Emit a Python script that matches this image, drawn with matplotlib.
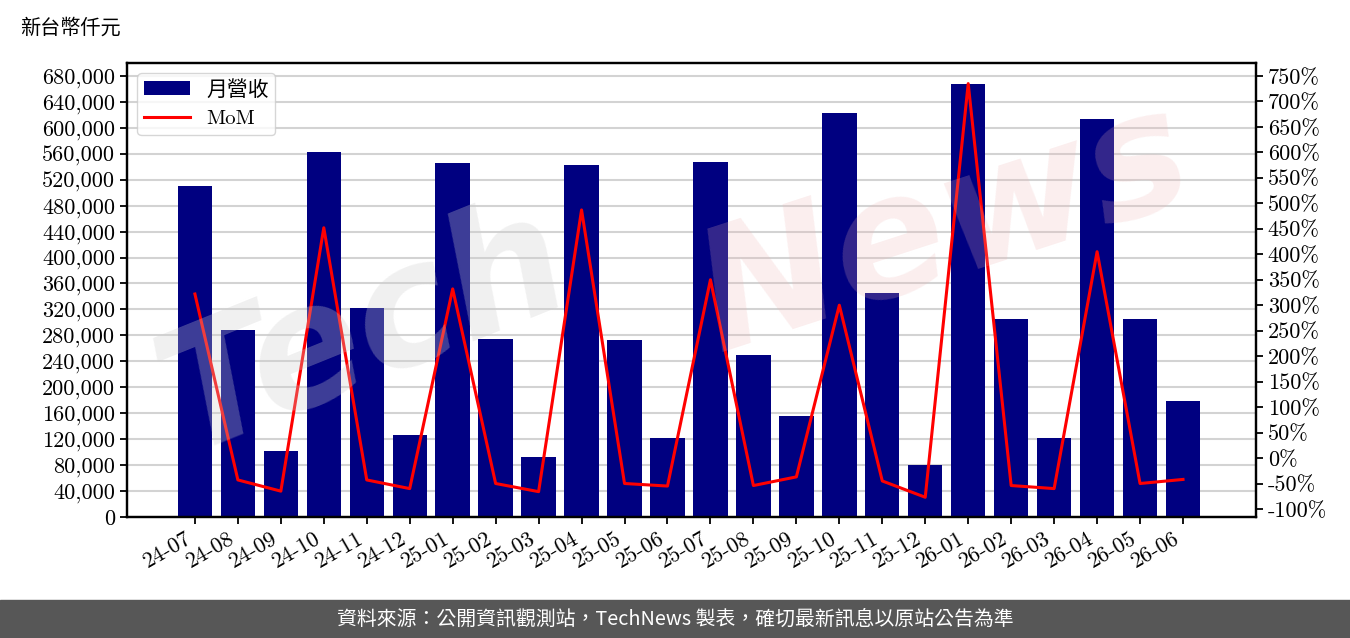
import numpy as np
import matplotlib
matplotlib.use('Agg')
import matplotlib.pyplot as plt
from matplotlib.ticker import FuncFormatter, MultipleLocator

months = ['24-07', '24-08', '24-09', '24-10', '24-11', '24-12',
          '25-01', '25-02', '25-03', '25-04', '25-05', '25-06',
          '25-07', '25-08', '25-09', '25-10', '25-11', '25-12',
          '26-01', '26-02', '26-03', '26-04', '26-05', '26-06']
revenue = [510000, 288000, 102000, 563000, 322000, 126000,
           546000, 274000, 92000, 543000, 273000, 122000,
           547000, 250000, 156000, 623000, 345000, 80000,
           668000, 305000, 122000, 614000, 305000, 179000]
mom = [322, -43, -65, 452, -43, -60,
       332, -50, -66, 487, -50, -55,
       350, -54, -37, 300, -45, -77,
       735, -54, -60, 405, -50, -42]

plt.rcParams['font.family'] = ['cmr10', 'Noto Sans CJK TC']
plt.rcParams['axes.unicode_minus'] = False
plt.rcParams['axes.formatter.use_mathtext'] = True

fig = plt.figure(figsize=(13.5, 6.38), dpi=100)
ax = fig.add_axes([0.0941, 0.1897, 0.8363, 0.7116])
ax2 = ax.twinx()

x = np.arange(len(months))
bars = ax.bar(x, revenue, width=0.8, color='#000080', label='月營收', zorder=2)
line, = ax2.plot(x, mom, color='red', lw=2.2, label='MoM', zorder=3)

ax.set_xlim(-1.58, len(months) - 1 + 1.70)
ax.set_ylim(0, 700000)
ax.yaxis.set_major_locator(MultipleLocator(40000))
ax.yaxis.set_major_formatter(FuncFormatter(lambda v, p: f'{int(v):,}'))
ax.grid(axis='y', color='#d3d3d3', lw=1.5, zorder=0)
ax.set_axisbelow(True)

ax2.set_ylim(-115.7, 775.5)
ax2.yaxis.set_major_locator(MultipleLocator(50))
ax2.yaxis.set_major_formatter(FuncFormatter(lambda v, p: f'{int(round(v))}%'))

ax.set_xticks(x)
ax.set_xticklabels(months, rotation=30, ha='right')

for a in (ax, ax2):
    a.tick_params(labelsize=16, length=5, width=1.3, direction='out')
    for s in a.spines.values():
        s.set_linewidth(1.6)

ax2.legend([bars, line], ['月營收', 'MoM'], loc='upper left',
           bbox_to_anchor=(0.0, 1.0), fontsize=15, framealpha=0.8,
           edgecolor='#cccccc', handlelength=2.2, borderpad=0.3)

# watermark
fig.text(0.27, 0.48, 'Tech', fontsize=120, color='#cfcfcf', alpha=0.3,
         style='italic', fontweight='bold', family='DejaVu Sans',
         rotation=22, ha='center', va='center', zorder=10)
fig.text(0.70, 0.64, 'News', fontsize=120, color='#eeb4b4', alpha=0.22,
         style='italic', fontweight='bold', family='DejaVu Sans',
         rotation=18, ha='center', va='center', zorder=10)

fig.text(0.015, 0.956, '新台幣仟元', fontsize=14.5, ha='left', va='center')

# footer band
fig.patches.append(plt.Rectangle((0, 0), 1, 38 / 638, transform=fig.transFigure,
                                 color='#575757', zorder=0))
fig.text(0.5, 19 / 638, '資料來源：公開資訊觀測站，TechNews 製表，確切最新訊息以原站公告為準',
         fontsize=14.3, color='white', ha='center', va='center',
         family=['Noto Sans CJK TC', 'DejaVu Sans'])

fig.savefig('out.png', dpi=100)
